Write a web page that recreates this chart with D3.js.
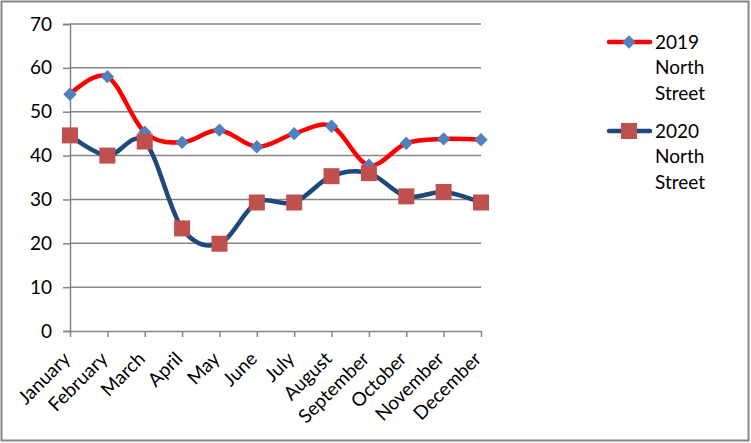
<!DOCTYPE html>
<html><head><meta charset="utf-8">
<script src="https://cdn.jsdelivr.net/npm/d3@7"></script>
<style>body{margin:0;background:#fff}svg{display:block}text{font-family:Lato,"Open Sans",sans-serif;fill:#000}</style>
</head><body>
<svg id="c" width="751" height="443"></svg>
<script>
const months = ["January","February","March","April","May","June","July","August","September","October","November","December"];
const series2019 = [54, 58, 45.3, 43, 45.8, 42, 45, 46.7, 37.8, 42.8, 43.8, 43.6];
const series2020 = [44.6, 40, 43.2, 23.4, 19.9, 29.3, 29.3, 35.3, 36, 30.7, 31.7, 29.3];
const yTicks = [0,10,20,30,40,50,60,70];
const legendLabels = [["2019","North","Street"],["2020","North","Street"]];

const svg = d3.select("#c");
svg.append("rect").attr("x",1.5).attr("y",1.5).attr("width",747).attr("height",439)
  .attr("fill","#fff").attr("stroke","#868686").attr("stroke-width",2);

const x = d3.scalePoint().domain(months).range([70,481]);
const y = d3.scaleLinear().domain([0,70]).range([331,24]);

// gridlines
svg.append("g").selectAll("line").data(yTicks.filter(d=>d>0)).join("line")
  .attr("x1",70).attr("x2",481).attr("y1",d=>y(d)).attr("y2",d=>y(d))
  .attr("stroke","#868686").attr("stroke-width",1.5);

// y axis
const ya = svg.append("g").attr("transform","translate(70,0)")
  .call(d3.axisLeft(y).tickValues(yTicks).tickSize(7).tickPadding(11));
ya.select(".domain").attr("stroke","#868686").attr("stroke-width",1.5);
ya.selectAll(".tick line").attr("stroke","#868686").attr("stroke-width",1.5);
ya.selectAll("text").style("font-size","19px").attr("fill","#000");

// x axis
const xa = svg.append("g").attr("transform","translate(0,331)")
  .call(d3.axisBottom(x).tickSize(6).tickSizeOuter(0));
xa.select(".domain").attr("stroke","#868686").attr("stroke-width",1.5);
xa.selectAll(".tick line").attr("stroke","#868686").attr("stroke-width",1.5);
xa.selectAll("text").style("font-size","19px").attr("fill","#000")
  .attr("text-anchor","end").attr("dy",null).attr("y",0)
  .attr("transform","translate(1,29) rotate(-45)");

const line = d3.line().x((d,i)=>x(months[i])).y(d=>y(d)).curve(d3.curveCardinal.tension(0));

svg.append("path").attr("d",line(series2019)).attr("fill","none").attr("stroke","#FF0000")
  .attr("stroke-width",4.5).attr("stroke-linecap","round").attr("stroke-linejoin","round");
svg.append("path").attr("d",line(series2020)).attr("fill","none").attr("stroke","#1F497D")
  .attr("stroke-width",4.5).attr("stroke-linecap","round").attr("stroke-linejoin","round");

const diamond = d3.symbol().type(d3.symbolSquare).size(90);
svg.append("g").selectAll("path").data(series2019).join("path")
  .attr("d",diamond())
  .attr("transform",(d,i)=>`translate(${x(months[i])},${y(d)}) rotate(45)`)
  .attr("fill","#4F81BD");
svg.append("g").selectAll("rect").data(series2020).join("rect")
  .attr("x",(d,i)=>x(months[i])-8).attr("y",d=>y(d)-8).attr("width",16).attr("height",16)
  .attr("fill","#C0504D");

// legend
const lg = svg.append("g");
const lgY = [42, 131];
legendLabels.forEach((lab,k)=>{
  const g = lg.append("g").attr("transform",`translate(0,${lgY[k]})`);
  g.append("line").attr("x1",609).attr("x2",650).attr("y1",0).attr("y2",0)
    .attr("stroke",k===0?"#FF0000":"#1F497D").attr("stroke-width",4.5).attr("stroke-linecap","round");
  if(k===0){
    g.append("path").attr("d",diamond()).attr("transform","translate(629,0) rotate(45)").attr("fill","#4F81BD");
  } else {
    g.append("rect").attr("x",621).attr("y",-8).attr("width",16).attr("height",16).attr("fill","#C0504D");
  }
  lab.forEach((t,j)=>{
    g.append("text").attr("x",655).attr("y",j*25.5).attr("dy","0.36em")
      .style("font-size","19px").text(t);
  });
});
</script>
</body></html>
